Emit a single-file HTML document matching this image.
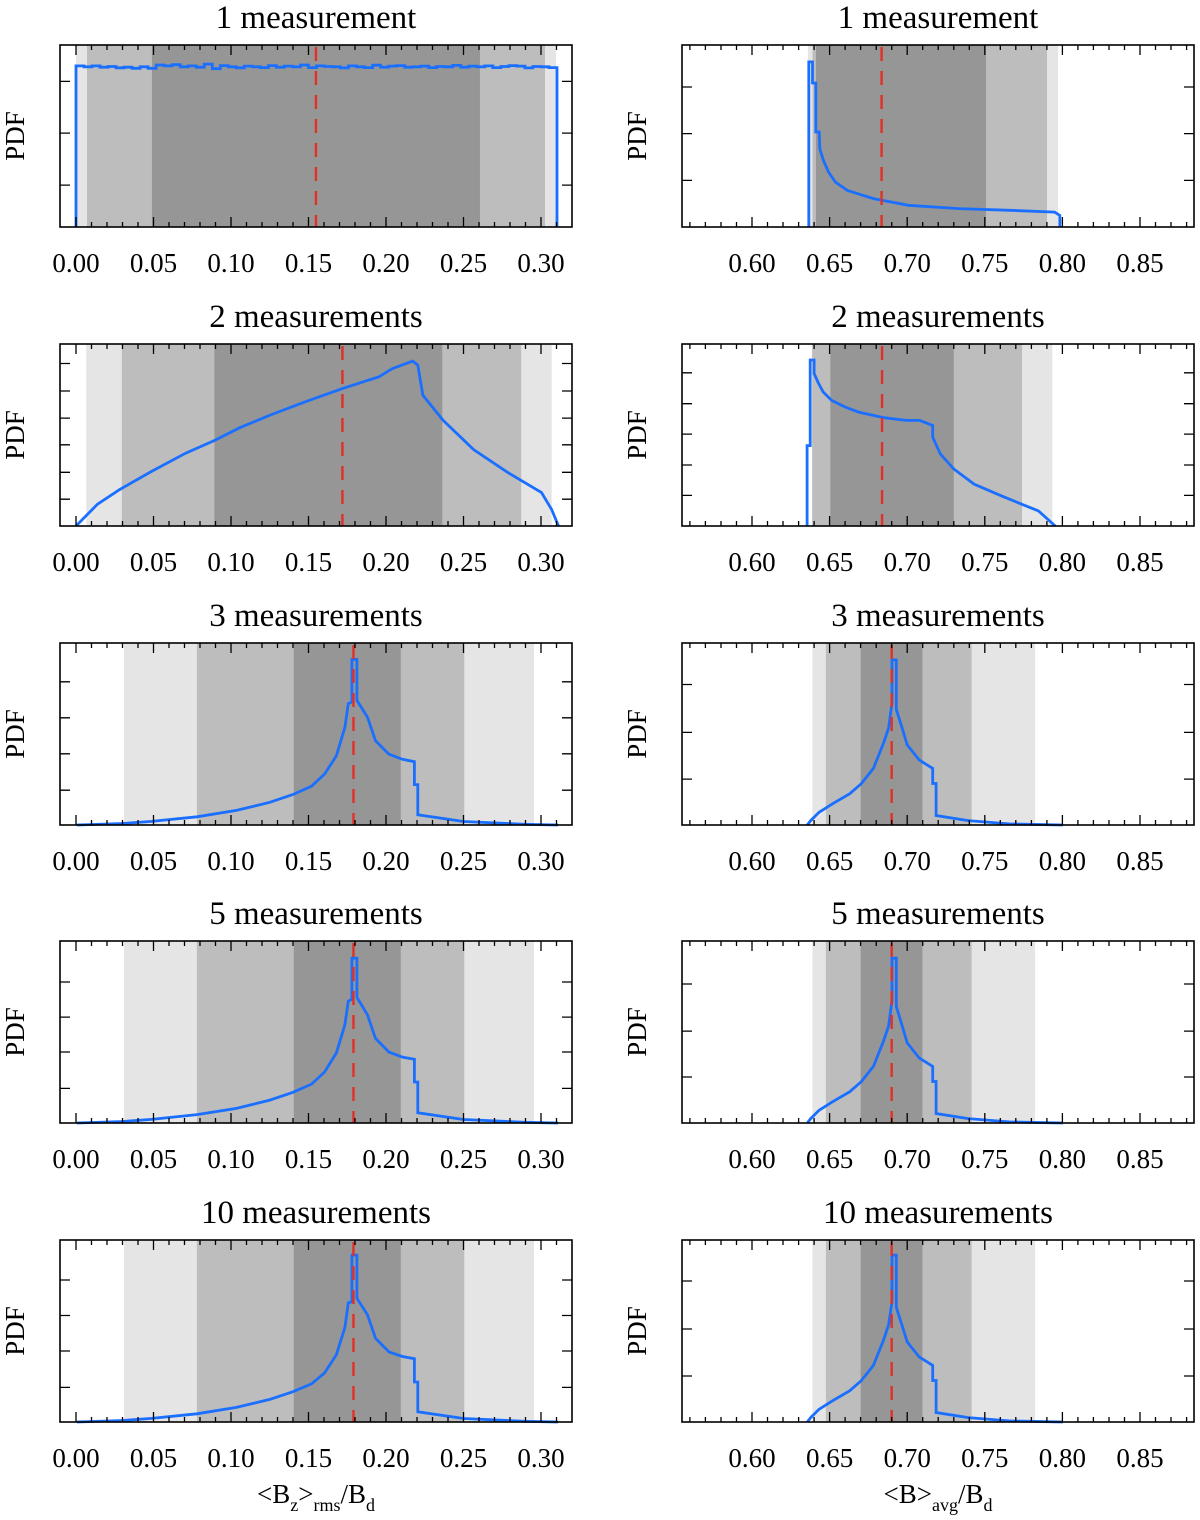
<!DOCTYPE html>
<html><head><meta charset="utf-8">
<style>
html,body{margin:0;padding:0;background:#fff;}
svg{display:block;font-family:"Liberation Serif",serif;}
</style></head>
<body>
<svg id="fig" width="1200" height="1520" viewBox="0 0 1200 1520" xmlns="http://www.w3.org/2000/svg"></svg>
<script>
// ---------- data ----------
const titles = ["1 measurement","2 measurements","3 measurements","5 measurements","10 measurements"];
const leftTickLabels = ["0.00","0.05","0.10","0.15","0.20","0.25","0.30"];
const leftTickValues = [0.00,0.05,0.10,0.15,0.20,0.25,0.30];
const rightTickLabels = ["0.60","0.65","0.70","0.75","0.80","0.85"];
const rightTickValues = [0.60,0.65,0.70,0.75,0.80,0.85];

// bands: [lo3, lo2, lo1, hi1, hi2, hi3]
const L1_bands = [0.000,0.0071,0.049,0.2606,0.3026,0.3097];
const L2_bands = [0.0066,0.0296,0.0893,0.2363,0.2872,0.3069];
const L3_bands = [0.031,0.078,0.1405,0.2095,0.2505,0.2955];
const L4_bands = [0.031,0.078,0.1405,0.2095,0.2505,0.2955];
const L5_bands = [0.031,0.078,0.1405,0.2095,0.2505,0.2955];
const R1_bands = [0.636,0.639,0.6412,0.7508,0.7901,0.7972];
const R2_bands = [0.6385,0.6388,0.6505,0.730,0.774,0.7935];
const R3_bands = [0.6389,0.6476,0.670,0.7098,0.7415,0.7824];
const R4_bands = [0.6389,0.6476,0.670,0.7098,0.7415,0.7824];
const R5_bands = [0.6389,0.6476,0.670,0.7098,0.7415,0.7824];

const medians = [0.1548,0.1719,0.179,0.179,0.179];
const medians_R = [0.6835,0.6838,0.690,0.690,0.690];

// L1 uniform histogram: bin values (fraction of panel height)
const L1_start = 0.0, L1_end = 0.3103;
const L1_vals = [0.885,0.880,0.885,0.878,0.882,0.875,0.878,0.872,0.880,0.872,0.890,0.885,0.892,0.880,0.885,0.878,0.895,0.870,0.887,0.880,0.875,0.884,0.880,0.876,0.887,0.878,0.884,0.880,0.890,0.876,0.885,0.882,0.880,0.874,0.885,0.880,0.876,0.889,0.878,0.884,0.887,0.878,0.880,0.884,0.876,0.882,0.880,0.888,0.878,0.884,0.880,0.885,0.876,0.882,0.887,0.884,0.874,0.882,0.880,0.876];

const L2_x = [0,0.0139,0.0281,0.0488,0.0707,0.0893,0.1057,0.1254,0.1472,0.1719,0.1954,0.2041,0.2172,0.2205,0.2238,0.2369,0.2566,0.2784,0.3003,0.3069,0.3113];
const L2_y = [0,0.12,0.20,0.30,0.40,0.47,0.54,0.61,0.68,0.755,0.82,0.865,0.906,0.884,0.718,0.58,0.42,0.295,0.184,0.09,0];

const L3_x = [0.0006,0.03,0.0488,0.078,0.1035,0.125,0.1398,0.152,0.1604,0.168,0.1735,0.1757,0.178,0.178,0.1812,0.1812,0.188,0.1932,0.2019,0.2106,0.2183,0.2183,0.2205,0.2205,0.25,0.2894,0.311];
const L3_y = [0,0.008,0.02,0.045,0.08,0.125,0.167,0.213,0.28,0.38,0.537,0.667,0.676,0.91,0.91,0.685,0.593,0.463,0.389,0.361,0.348,0.222,0.222,0.056,0.019,0.004,0];
const L4_x = [0.0006,0.03,0.0488,0.078,0.1035,0.125,0.1398,0.152,0.1604,0.168,0.1735,0.1757,0.178,0.178,0.1812,0.1812,0.188,0.1932,0.2019,0.2106,0.2183,0.2183,0.2205,0.2205,0.25,0.2894,0.311];
const L4_y = [0,0.008,0.02,0.046,0.08,0.126,0.168,0.214,0.28,0.385,0.54,0.67,0.68,0.906,0.906,0.69,0.595,0.465,0.39,0.362,0.35,0.225,0.225,0.056,0.019,0.004,0];
const L5_x = [0.0006,0.03,0.0488,0.078,0.1035,0.125,0.1398,0.152,0.1604,0.168,0.1735,0.1757,0.178,0.178,0.1812,0.1812,0.188,0.1932,0.2019,0.2106,0.2183,0.2183,0.2205,0.2205,0.25,0.2894,0.311];
const L5_y = [0,0.008,0.02,0.045,0.08,0.124,0.166,0.21,0.27,0.37,0.52,0.655,0.66,0.917,0.917,0.68,0.59,0.46,0.385,0.36,0.348,0.22,0.22,0.056,0.019,0.004,0];

const R1_x = [0.6366,0.6366,0.639,0.639,0.6411,0.6411,0.6433,0.6437,0.646,0.6493,0.6537,0.6614,0.6782,0.7007,0.7334,0.7662,0.795,0.7983,0.7983];
const R1_y = [0,0.907,0.907,0.791,0.791,0.522,0.522,0.43,0.366,0.302,0.247,0.201,0.156,0.119,0.101,0.092,0.082,0.064,0];
const R2_x = [0.6355,0.6355,0.6375,0.6375,0.640,0.640,0.6425,0.6458,0.6513,0.66,0.6687,0.6851,0.6993,0.7081,0.7164,0.7164,0.7213,0.730,0.7431,0.7606,0.7737,0.7846,0.7954];
const R2_y = [0,0.442,0.442,0.912,0.912,0.838,0.79,0.737,0.69,0.654,0.626,0.595,0.58,0.58,0.552,0.488,0.396,0.313,0.23,0.166,0.12,0.083,0];
const R3_x = [0.6356,0.6378,0.6432,0.652,0.663,0.6705,0.6782,0.6847,0.688,0.6902,0.6902,0.693,0.693,0.6967,0.70,0.7077,0.7164,0.7164,0.7186,0.7186,0.7394,0.7657,0.8003];
const R3_y = [0,0.024,0.07,0.117,0.172,0.228,0.311,0.45,0.533,0.672,0.907,0.907,0.635,0.533,0.44,0.357,0.311,0.228,0.228,0.052,0.024,0.006,0];
const R4_x = [0.6356,0.6378,0.6432,0.652,0.663,0.6705,0.6782,0.6847,0.688,0.6902,0.6902,0.693,0.693,0.6967,0.70,0.7077,0.7164,0.7164,0.7186,0.7186,0.7394,0.7657,0.8003];
const R4_y = [0,0.024,0.07,0.117,0.172,0.228,0.311,0.45,0.533,0.672,0.906,0.906,0.64,0.535,0.44,0.357,0.311,0.228,0.228,0.052,0.024,0.006,0];
const R5_x = [0.6356,0.6378,0.6432,0.652,0.663,0.6705,0.6782,0.6847,0.688,0.6902,0.6902,0.693,0.693,0.6967,0.70,0.7077,0.7164,0.7164,0.7186,0.7186,0.7394,0.7657,0.8003];
const R5_y = [0,0.024,0.07,0.117,0.172,0.228,0.311,0.45,0.533,0.66,0.917,0.917,0.63,0.53,0.44,0.357,0.311,0.228,0.228,0.052,0.024,0.006,0];

// y tick positions (fraction of axis height)
const L_yticks = [[0.23,0.516,0.80],[0.147,0.295,0.446,0.593,0.742,0.893],[0.191,0.391,0.589,0.787],[0.19,0.39,0.582,0.775],[0.19,0.39,0.585,0.78]];
const R_yticks = [[0.256,0.513,0.769],[0.168,0.335,0.505,0.672,0.842],[0.252,0.509,0.772],[0.253,0.505,0.764],[0.253,0.511,0.775]];

// ---------- layout ----------
const svg = document.getElementById('fig');
const NS = 'http://www.w3.org/2000/svg';
const tops = [45,344,643,941,1240];
const PH = 182;
const sides = {
  L: {x0:60, x1:572, px:v=>76+1550*v, minor:[-0.01,0.32], ticks:leftTickValues, labels:leftTickLabels, cx:316, pdfx:24},
  R: {x0:682, x1:1194, px:v=>752+1552*(v-0.6), minor:[0.56,0.88], ticks:rightTickValues, labels:rightTickLabels, cx:938, pdfx:646}
};
function mk(tag, attrs, parent){
  const e = document.createElementNS(NS, tag);
  for (const k in attrs) e.setAttribute(k, attrs[k]);
  (parent||svg).appendChild(e);
  return e;
}
const bandsAll = {L:[L1_bands,L2_bands,L3_bands,L4_bands,L5_bands], R:[R1_bands,R2_bands,R3_bands,R4_bands,R5_bands]};
const curvesAll = {L:[null,[L2_x,L2_y],[L3_x,L3_y],[L4_x,L4_y],[L5_x,L5_y]], R:[[R1_x,R1_y],[R2_x,R2_y],[R3_x,R3_y],[R4_x,R4_y],[R5_x,R5_y]]};
const medAll = {L:medians, R:medians_R};
const ytAll = {L:L_yticks, R:R_yticks};

['L','R'].forEach(s=>{
  const S = sides[s];
  for (let r=0;r<5;r++){
    const top = tops[r], bot = top+PH;
    const yp = f => bot - f*PH;
    const g = mk('g',{});
    
    
    const t = mk('text',{x:S.cx, y:top-17, 'text-anchor':'middle', 'font-size':33, fill:'#000'}, g);
    t.textContent = titles[r];
    
    
    const b = bandsAll[s][r];
    const cols = ['#e5e5e5','#bdbdbd','#969696'];
    [[0,5],[1,4],[2,3]].forEach((p,i)=>{
      const xa = Math.max(S.x0, S.px(b[p[0]])), xb = Math.min(S.x1, S.px(b[p[1]]));
      const rc = mk('rect',{x:xa, y:top, width:Math.max(0,xb-xa), height:PH, fill:cols[i]}, g);
      
      
    });
    let pts = [];
    if (s==='L' && r===0){
      const w = (L1_end-L1_start)/L1_vals.length;
      pts.push([S.px(L1_start), yp(0)]);
      L1_vals.forEach((v,i)=>{
        pts.push([S.px(L1_start+i*w), yp(v)]);
        pts.push([S.px(L1_start+(i+1)*w), yp(v)]);
      });
      pts.push([S.px(L1_end), yp(0)]);
    } else {
      const [xs, ys] = curvesAll[s][r];
      xs.forEach((x,i)=>pts.push([S.px(x), yp(ys[i])]));
    }
    const pl = mk('polyline',{points:pts.map(p=>p[0].toFixed(1)+','+p[1].toFixed(1)).join(' '), fill:'none', stroke:'#1a6fff', 'stroke-width':2.8, 'stroke-linejoin':'miter'}, g);
    
    
    const mx = S.px(medAll[s][r]);
    const ml = mk('line',{x1:mx, x2:mx, y1:top+2, y2:bot, stroke:'#e03028', 'stroke-width':2.4, 'stroke-dasharray':'14,10'}, g);
    
    
    const fr = mk('rect',{x:S.x0, y:top, width:S.x1-S.x0, height:PH, fill:'none', stroke:'#000', 'stroke-width':1.6}, g);
    
    
    let d = '';
    for (let k=Math.round(S.minor[0]*100); k<=Math.round(S.minor[1]*100); k++){
      const x = S.px(k/100);
      if (x<S.x0+1 || x>S.x1-1) continue;
      const len = (k%5===0)?10:5;
      d += `M${x.toFixed(1)},${bot}v${-len}M${x.toFixed(1)},${top}v${len}`;
    }
    ytAll[s][r].forEach(f=>{ const y=yp(f).toFixed(1); d += `M${S.x0},${y}h10M${S.x1},${y}h-10`; });
    const tk = mk('path',{d:d, stroke:'#000', 'stroke-width':1.3, fill:'none'}, g);
    
    
    S.ticks.forEach((v,i)=>{
      const tl = mk('text',{x:S.px(v), y:bot+45, 'text-anchor':'middle', 'font-size':27, fill:'#000'}, g);
      tl.textContent = S.labels[i];
      
      
    });
    const cy = top+PH/2;
    const pd = mk('text',{x:S.pdfx, y:cy, 'text-anchor':'middle', 'font-size':27, fill:'#000', transform:`rotate(-90 ${S.pdfx} ${cy})`}, g);
    pd.textContent = 'PDF';
    
    
  }
});
const xt1 = mk('text',{x:316, y:1503, 'text-anchor':'middle', 'font-size':27, fill:'#000'});
xt1.innerHTML = '&lt;B<tspan font-size="18" dy="8">z</tspan><tspan dy="-8">&gt;</tspan><tspan font-size="18" dy="8">rms</tspan><tspan dy="-8">/B</tspan><tspan font-size="18" dy="8">d</tspan>';


const xt2 = mk('text',{x:938, y:1503, 'text-anchor':'middle', 'font-size':27, fill:'#000'});
xt2.innerHTML = '&lt;B&gt;<tspan font-size="18" dy="8">avg</tspan><tspan dy="-8">/B</tspan><tspan font-size="18" dy="8">d</tspan>';


</script>
</body></html>
